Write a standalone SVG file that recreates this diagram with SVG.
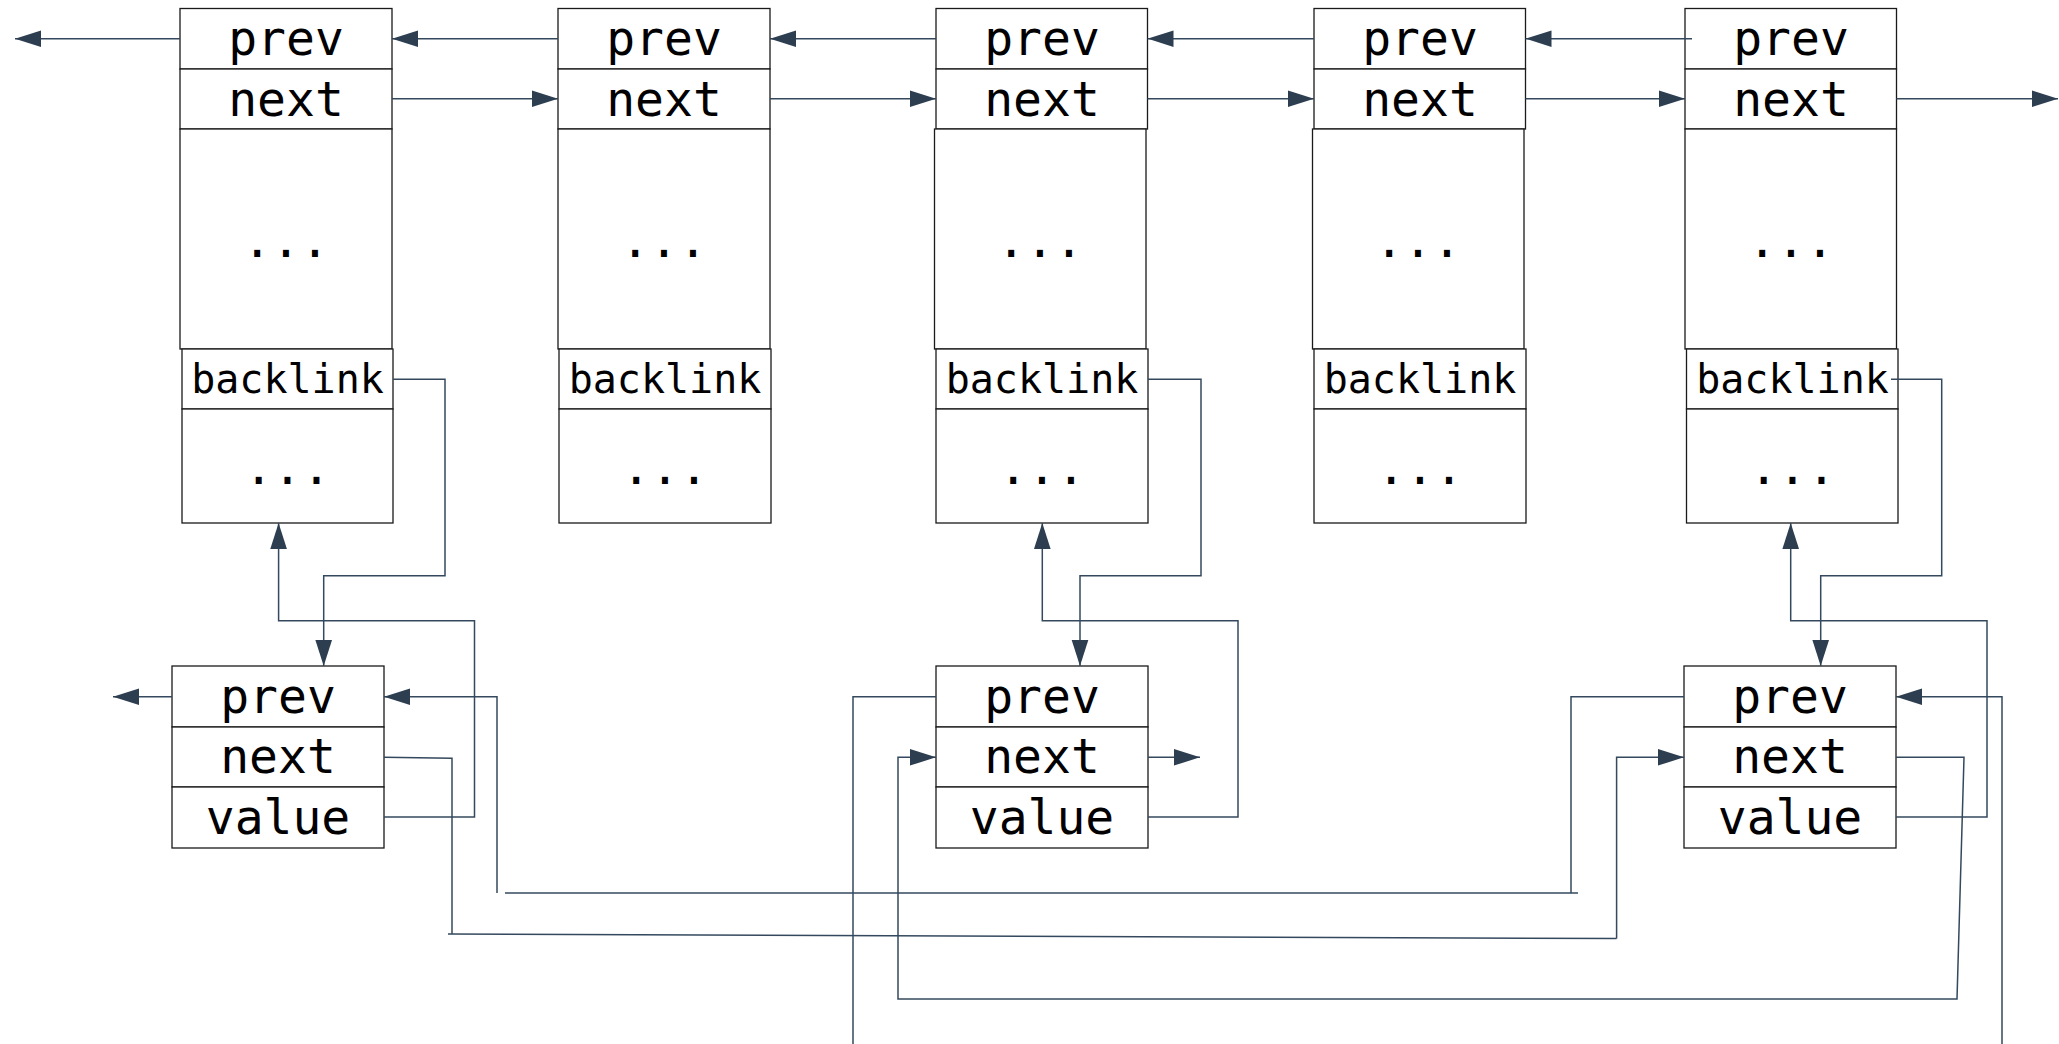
<svg xmlns="http://www.w3.org/2000/svg" width="2059" height="1044" viewBox="0 0 2059 1044">
  <style>
    .cell { fill: #ffffff; stroke: #1a1a1a; stroke-width: 1.3; }
    .big { font-family: "DejaVu Sans Mono", "Liberation Mono", monospace; font-size: 48px; fill: #000; text-anchor: middle; }
    .mid { font-family: "DejaVu Sans Mono", "Liberation Mono", monospace; font-size: 40px; fill: #000; text-anchor: middle; }
    .wire { fill: none; stroke: #34495e; stroke-width: 1.5; }
    .arrow { marker-end: url(#head); }
  </style>
  <defs>
    <marker id="head" markerUnits="userSpaceOnUse" markerWidth="26" markerHeight="18" viewBox="0 0 25 16" refX="25" refY="8" orient="auto">
      <path d="M0,0 L25,8 L0,16 Z" fill="#2c3e50"/>
    </marker>
  </defs>

  <rect width="2059" height="1044" fill="#ffffff"/>

  <!-- list entries: prev / next / ... / backlink / ... -->
  <g id="entry1">
    <rect class="cell" x="180" y="8.5" width="212" height="60.5"/>
    <rect class="cell" x="180" y="69" width="212" height="60"/>
    <rect class="cell" x="180" y="129" width="212" height="220"/>
    <rect class="cell" x="182" y="349" width="211" height="60"/>
    <rect class="cell" x="182" y="409" width="211" height="114"/>
    <text class="big" x="286" y="55">prev</text>
    <text class="big" x="286" y="115.5">next</text>
    <text class="big" x="286" y="256.5">...</text>
    <text class="mid" x="287.5" y="392.5">backlink</text>
    <text class="big" x="287.5" y="484">...</text>
  </g>
  <g id="entry2">
    <rect class="cell" x="558" y="8.5" width="212" height="60.5"/>
    <rect class="cell" x="558" y="69" width="212" height="60"/>
    <rect class="cell" x="558" y="129" width="212" height="220"/>
    <rect class="cell" x="559" y="349" width="212" height="60"/>
    <rect class="cell" x="559" y="409" width="212" height="114"/>
    <text class="big" x="664" y="55">prev</text>
    <text class="big" x="664" y="115.5">next</text>
    <text class="big" x="664" y="256.5">...</text>
    <text class="mid" x="665" y="392.5">backlink</text>
    <text class="big" x="665" y="484">...</text>
  </g>
  <g id="entry3">
    <rect class="cell" x="936" y="8.5" width="211.5" height="60.5"/>
    <rect class="cell" x="936" y="69" width="211.5" height="60"/>
    <rect class="cell" x="934.5" y="129" width="211.5" height="220"/>
    <rect class="cell" x="936" y="349" width="212" height="60"/>
    <rect class="cell" x="936" y="409" width="212" height="114"/>
    <text class="big" x="1042" y="55">prev</text>
    <text class="big" x="1042" y="115.5">next</text>
    <text class="big" x="1040" y="256.5">...</text>
    <text class="mid" x="1042" y="392.5">backlink</text>
    <text class="big" x="1042" y="484">...</text>
  </g>
  <g id="entry4">
    <rect class="cell" x="1314" y="8.5" width="211.5" height="60.5"/>
    <rect class="cell" x="1314" y="69" width="211.5" height="60"/>
    <rect class="cell" x="1312.5" y="129" width="211.5" height="220"/>
    <rect class="cell" x="1314" y="349" width="212" height="60"/>
    <rect class="cell" x="1314" y="409" width="212" height="114"/>
    <text class="big" x="1420" y="55">prev</text>
    <text class="big" x="1420" y="115.5">next</text>
    <text class="big" x="1418" y="256.5">...</text>
    <text class="mid" x="1420" y="392.5">backlink</text>
    <text class="big" x="1420" y="484">...</text>
  </g>
  <g id="entry5">
    <rect class="cell" x="1685" y="8.5" width="211.5" height="60.5"/>
    <rect class="cell" x="1685" y="69" width="211.5" height="60"/>
    <rect class="cell" x="1685" y="129" width="211.5" height="220"/>
    <rect class="cell" x="1686.5" y="349" width="211.5" height="60"/>
    <rect class="cell" x="1686.5" y="409" width="211.5" height="114"/>
    <text class="big" x="1791" y="55">prev</text>
    <text class="big" x="1791" y="115.5">next</text>
    <text class="big" x="1791" y="256.5">...</text>
    <text class="mid" x="1792.5" y="392.5">backlink</text>
    <text class="big" x="1792.5" y="484">...</text>
  </g>

  <!-- value nodes: prev / next / value -->
  <g id="value1">
    <rect class="cell" x="172" y="666" width="212" height="61"/>
    <rect class="cell" x="172" y="727" width="212" height="60"/>
    <rect class="cell" x="172" y="787" width="212" height="61"/>
    <text class="big" x="278" y="713">prev</text>
    <text class="big" x="278" y="773">next</text>
    <text class="big" x="278" y="833.5">value</text>
  </g>
  <g id="value2">
    <rect class="cell" x="936" y="666" width="212" height="61"/>
    <rect class="cell" x="936" y="727" width="212" height="60"/>
    <rect class="cell" x="936" y="787" width="212" height="61"/>
    <text class="big" x="1042" y="713">prev</text>
    <text class="big" x="1042" y="773">next</text>
    <text class="big" x="1042" y="833.5">value</text>
  </g>
  <g id="value3">
    <rect class="cell" x="1684" y="666" width="212" height="61"/>
    <rect class="cell" x="1684" y="727" width="212" height="60"/>
    <rect class="cell" x="1684" y="787" width="212" height="61"/>
    <text class="big" x="1790" y="713">prev</text>
    <text class="big" x="1790" y="773">next</text>
    <text class="big" x="1790" y="833.5">value</text>
  </g>

  <g id="connectors">
    <!-- prev links along the top row -->
    <path class="wire arrow" d="M180,38.7 H15"/>
    <path class="wire arrow" d="M558,38.7 H392"/>
    <path class="wire arrow" d="M936,38.7 H770"/>
    <path class="wire arrow" d="M1314,38.7 H1147.5"/>
    <path class="wire arrow" d="M1692,38.7 H1525.5"/>
    <!-- next links along the top row -->
    <path class="wire arrow" d="M392,98.7 H558"/>
    <path class="wire arrow" d="M770,98.7 H936"/>
    <path class="wire arrow" d="M1147.5,98.7 H1314"/>
    <path class="wire arrow" d="M1525.5,98.7 H1685"/>
    <path class="wire arrow" d="M1896.5,98.7 H2058"/>

    <!-- backlink to value node -->
    <path class="wire arrow" d="M393,379.3 H445 V575.7 H323.7 V666"/>
    <path class="wire arrow" d="M1148,379.3 H1201 V575.7 H1080 V666"/>
    <path class="wire arrow" d="M1891,379.3 H1941.7 V575.7 H1820.7 V666"/>

    <!-- value back to its entry -->
    <path class="wire arrow" d="M384,817 H474.5 V620.7 H278.6 V523"/>
    <path class="wire arrow" d="M1148,817 H1238 V620.7 H1042.3 V523"/>
    <path class="wire arrow" d="M1896,817 H1987 V620.7 H1790.7 V523"/>

    <!-- value node 1 prev links -->
    <path class="wire arrow" d="M172,696.7 H113"/>
    <path class="wire arrow" d="M497,893 V696.7 H384"/>
    <path class="wire" d="M505,893 H1578"/>
    <path class="wire" d="M1684,696.7 H1571 V893"/>

    <!-- value node 1 next to value node 3 -->
    <path class="wire" d="M384,757.3 L452,758.3 V934"/>
    <path class="wire" d="M448,934 L1616.6,938.6"/>
    <path class="wire arrow" d="M1616.6,938.6 V757.3 H1684"/>

    <!-- value node 2 links -->
    <path class="wire arrow" d="M1148,757.3 H1200"/>
    <path class="wire arrow" d="M1896,757.3 H1964 L1957,999 H898 V757.3 H936"/>
    <path class="wire" d="M936,696.7 H853 V1044"/>

    <!-- value node 3 prev from below -->
    <path class="wire arrow" d="M2002,1044 V696.7 H1896"/>
  </g>
</svg>
